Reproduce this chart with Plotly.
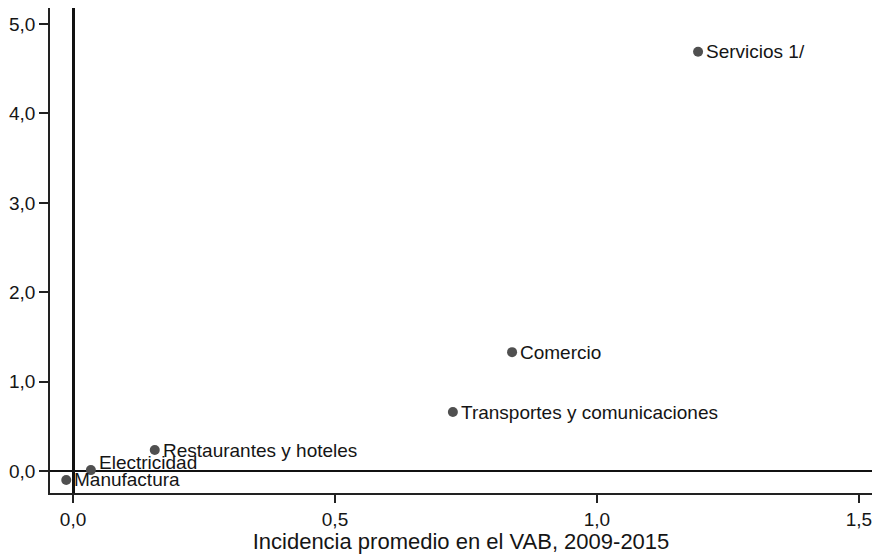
import plotly.graph_objects as go

sectors = ["Servicios 1/", "Comercio", "Transportes y comunicaciones",
           "Restaurantes y hoteles", "Electricidad", "Manufactura"]
incidencia_vab = [1.193, 0.838, 0.725, 0.156, 0.034, -0.013]
eje_y = [4.69, 1.33, 0.66, 0.235, 0.01, -0.10]
label_yshift = [0, 0, 0, 0, 8, 0]

x_ticks = [0.0, 0.5, 1.0, 1.5]
y_ticks = [0.0, 1.0, 2.0, 3.0, 4.0, 5.0]

font_family = "Liberation Sans, Arial, sans-serif"

fig = go.Figure()
fig.add_trace(go.Scatter(
    x=incidencia_vab, y=eje_y, mode="markers",
    marker=dict(size=10, color="#505050"),
    cliponaxis=False, showlegend=False, hoverinfo="text", text=sectors,
))
for name, xv, yv, ys in zip(sectors, incidencia_vab, eje_y, label_yshift):
    fig.add_annotation(
        x=xv, y=yv, text=name, showarrow=False,
        xanchor="left", yanchor="middle", xshift=6, yshift=ys,
        font=dict(family=font_family, size=19, color="#151515"),
    )

fig.update_layout(
    width=874, height=554,
    margin=dict(l=50, r=2, t=8, b=61),
    paper_bgcolor="white", plot_bgcolor="white",
    separators=",.",
    font=dict(family=font_family, color="#151515"),
)
fig.update_xaxes(
    range=[-0.044, 1.525], tickvals=x_ticks, tickformat=".1f",
    automargin=False,
    showgrid=False, zeroline=True, zerolinecolor="#111", zerolinewidth=3,
    showline=True, linecolor="#222", linewidth=1.5, mirror=False,
    ticks="outside", ticklen=8, tickwidth=1.5, tickcolor="#222",
    tickfont=dict(size=19),
    title=dict(text="Incidencia promedio en el VAB, 2009-2015",
               font=dict(size=22), standoff=4),
)
fig.update_yaxes(
    range=[-0.246, 5.18], tickvals=y_ticks, tickformat=".1f",
    automargin=False,
    showgrid=False, zeroline=True, zerolinecolor="#111", zerolinewidth=2,
    showline=True, linecolor="#222", linewidth=1.5, mirror=False,
    ticks="outside", ticklen=9, tickwidth=1.5, tickcolor="#222",
    tickfont=dict(size=19),
)

fig.write_html("out.html", config={"displayModeBar": False},
               post_script="document.body.style.margin='0';document.body.style.overflow='hidden';")
